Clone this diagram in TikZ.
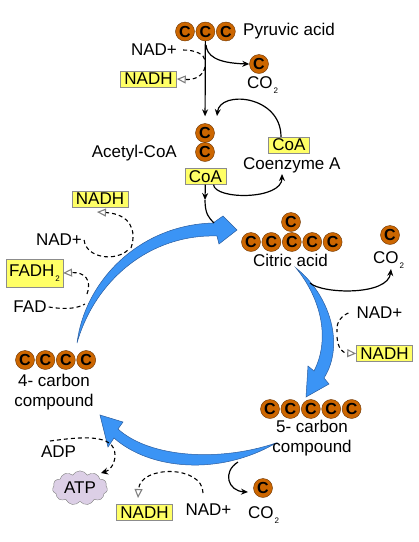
\documentclass[tikz,border=0pt]{standalone}
\usepackage{fontspec}
\setmainfont{Liberation Sans}
\usetikzlibrary{arrows.meta,positioning,shapes.symbols}
\definecolor{carbon}{HTML}{CC6600}
\definecolor{carbonrim}{HTML}{6B3300}
\definecolor{flowfill}{HTML}{3B94F5}
\definecolor{flowrim}{HTML}{2A5C9E}
\definecolor{carrierfill}{HTML}{FFFF66}
\definecolor{carrierrim}{HTML}{8C8C8C}
\definecolor{atpfill}{HTML}{DCCFE6}
\tikzset{carbon/.style={circle,draw=carbonrim,fill=carbon,minimum size=19pt,inner sep=0pt,font=\fontsize{16}{16}\selectfont\bfseries},chem/.style={font=\fontsize{17}{20}\selectfont,inner sep=0pt,align=center},carrier/.style={draw=carrierrim,fill=carrierfill,font=\fontsize{17}{20}\selectfont,inner xsep=4pt,inner ysep=1.5pt,minimum height=16pt},arr/.style={-{Stealth[length=7pt,width=6pt]},line width=1.2pt},redox/.style={dashed,dash pattern=on 4pt off 3pt,line width=1.1pt},reduced/.style={redox,-{Triangle[open,length=9pt,width=8pt,color=gray]}},flow/.style={draw=flowrim,line width=0.5pt,fill=flowfill}}
\newcommand{\subtwo}{\kern1pt\raisebox{-5pt}{\fontsize{8}{8}\selectfont 2}}

\begin{document}
\begin{tikzpicture}[x=1pt,y=-1pt,node distance=1pt]
\useasboundingbox (0,0) rectangle (419,542);
% blue flow arrows of the cycle
\draw[flow] (77,343) .. controls (85,280) and (140,225) .. (213,223) -- (223,216) -- (237,230) -- (219,244) -- (217,236) .. controls (150,234) and (95,280) .. (77,343) -- cycle;
\draw[flow] (296,268) .. controls (330,295) and (345,345) .. (324,378) -- (329,384) -- (306,397) -- (308,366) -- (314,371) .. controls (330,340) and (322,300) .. (296,268) -- cycle;
\draw[flow] (276,443) .. controls (220,476) and (150,470) .. (114,438) -- (108,447) -- (100,415) -- (123,422) -- (118,429) .. controls (150,458) and (220,462) .. (276,443) -- cycle;

% pyruvic acid
\node[carbon] (py1) at (185,31.5) {C};
\node[carbon,right=of py1] (py2) {C};
\node[carbon,right=of py2] (py3) {C};
\node[chem,anchor=west] (pyname) at (243,31.5) {Pyruvic acid};
\node[chem] (nadA) at (154,50) {NAD+};
\node[carrier] (nadhA) at (148.5,79) {NADH};
\node[carbon] (coA) at (259,64) {C};
\node[chem,anchor=base west] (coAtxt) at (247,88) {CO\subtwo};

% acetyl-CoA
\node[carbon] (ac1) at (205,133) {C};
\node[carbon] (ac2) at (205,152) {C};
\node[chem,anchor=east] (acname) at (177,153) {Acetyl-CoA};
\node[carrier] (coaL) at (205.5,176.5) {CoA};
\node[carrier] (coaR) at (289,145) {CoA};
\node[chem,anchor=west] (coename) at (243,165) {Coenzyme A};

% citric acid
\node[carbon] (ci1) at (251,242) {C};
\node[carbon,right=of ci1] (ci2) {C};
\node[carbon,right=of ci2] (ci3) {C};
\node[carbon,right=of ci3] (ci4) {C};
\node[carbon,right=of ci4] (ci5) {C};
\node[carbon] (citop) at (291,222) {C};
\node[chem] (ciname) at (290.5,260) {Citric acid};
\node[carbon] (coB) at (390,235) {C};
\node[chem,anchor=base west] (coBtxt) at (373,263) {CO\subtwo};
\node[chem] (nadB) at (379.5,313) {NAD+};
\node[carrier] (nadhB) at (384.5,353.5) {NADH};

% 5-carbon compound
\node[carbon] (fv1) at (270,409) {C};
\node[carbon,right=of fv1] (fv2) {C};
\node[carbon,right=of fv2] (fv3) {C};
\node[carbon,right=of fv3] (fv4) {C};
\node[carbon,right=of fv4] (fv5) {C};
\node[chem] (fvname) at (312,438) {5- carbon\\compound};
\node[carbon] (coC) at (263,488) {C};
\node[chem,anchor=base west] (coCtxt) at (248,518) {CO\subtwo};
\node[chem] (nadD) at (208.5,510) {NAD+};
\node[carrier] (nadhD) at (144.5,512.5) {NADH};
\node[chem] (adp) at (58.5,452) {ADP};
\node[cloud,cloud puffs=11,cloud puff arc=120,aspect=1.6,draw=gray,fill=atpfill,minimum width=55pt,minimum height=33pt,inner sep=0pt,font=\fontsize{17}{20}\selectfont] (atp) at (80,488) {ATP};

% 4-carbon compound
\node[carbon] (fr1) at (25,360) {C};
\node[carbon,right=of fr1] (fr2) {C};
\node[carbon,right=of fr2] (fr3) {C};
\node[carbon,right=of fr3] (fr4) {C};
\node[chem] (frname) at (54,392) {4- carbon\\compound};
\node[carrier,minimum height=28pt,inner xsep=3pt] (fadh) at (34.5,273) {FADH\subtwo};
\node[chem] (fad) at (30,307) {FAD};
\node[chem] (nadC) at (59,240) {NAD+};
\node[carrier] (nadhC) at (100,199) {NADH};

% free ends of the connectors
\coordinate (tapA) at (205,60);
\coordinate (tapB) at (205,67);
\coordinate (tapC) at (206,45);
\coordinate (acIn) at (217,116);
\coordinate (coaDn) at (205,200);
\coordinate (joinA) at (214,223);
\coordinate (coeIn) at (282,174);
\coordinate (cjoin) at (310,283);
\coordinate (coBin) at (391,269);
\coordinate (tapD) at (337,332);
\coordinate (tapE) at (337,337);
\coordinate (tapF) at (131,248);
\coordinate (nadhCin) at (97,212);
\coordinate (tapG) at (128,250);
\coordinate (tapH) at (87,294);
\coordinate (tapI) at (85,304);
\coordinate (adpS) at (50,441);
\coordinate (atpIn) at (101,473);
\coordinate (nadDS) at (203,493);
\coordinate (nadhDin) at (138,498);
\coordinate (tapJ) at (238,462);
\coordinate (coCin) at (248,492);

% connectors
\draw[arr,shorten >=7pt] (py2) -- (ac1);
\draw[redox] ([xshift=6pt]nadA.east) .. controls (195,50) and (204,54) .. (tapA);
\draw[reduced] (tapB) .. controls (203,76) and (195,80) .. (nadhA.east);
\draw[arr] (tapC) .. controls (207,55) and (215,63) .. (coA.west);
\draw[arr] ([xshift=-8pt]coaR.north) .. controls (281,95) and (220,90) .. (acIn);
\draw[arr] (coaL) -- (coaDn);
\draw[line width=1.2pt] (coaDn) .. controls (205,214) and (209,218) .. (joinA);
\draw[arr] ([xshift=8pt]coaL.south) .. controls (215,200) and (282,200) .. (coeIn);
\draw[arr] (cjoin) .. controls (322,294) and (388,296) .. (coBin);
\draw[redox] ([xshift=-8pt]nadB.west) .. controls (339,317) and (336,325) .. (tapD);
\draw[reduced] (tapE) .. controls (338,348) and (342,353) .. (nadhB.west);
\draw[reduced] (tapF) .. controls (137,230) and (130,214) .. (nadhCin);
\draw[redox] ([xshift=2pt]nadC.east) .. controls (86,258) and (115,262) .. (tapG);
\draw[reduced] (tapH) .. controls (92,280) and (85,272) .. (fadh.east);
\draw[redox] ([xshift=2pt]fad.east) .. controls (68,310) and (78,308) .. (tapI);
\draw[redox,-{Stealth[length=7pt,width=7pt]}] (adpS) .. controls (80,437) and (115,433) .. (115,455) .. controls (115,466) and (108,471) .. (atpIn);
\draw[reduced] (nadDS) .. controls (203,465) and (140,465) .. (nadhDin);
\draw[arr] (tapJ) .. controls (222,472) and (228,491) .. (coCin);
\end{tikzpicture}
\end{document}
